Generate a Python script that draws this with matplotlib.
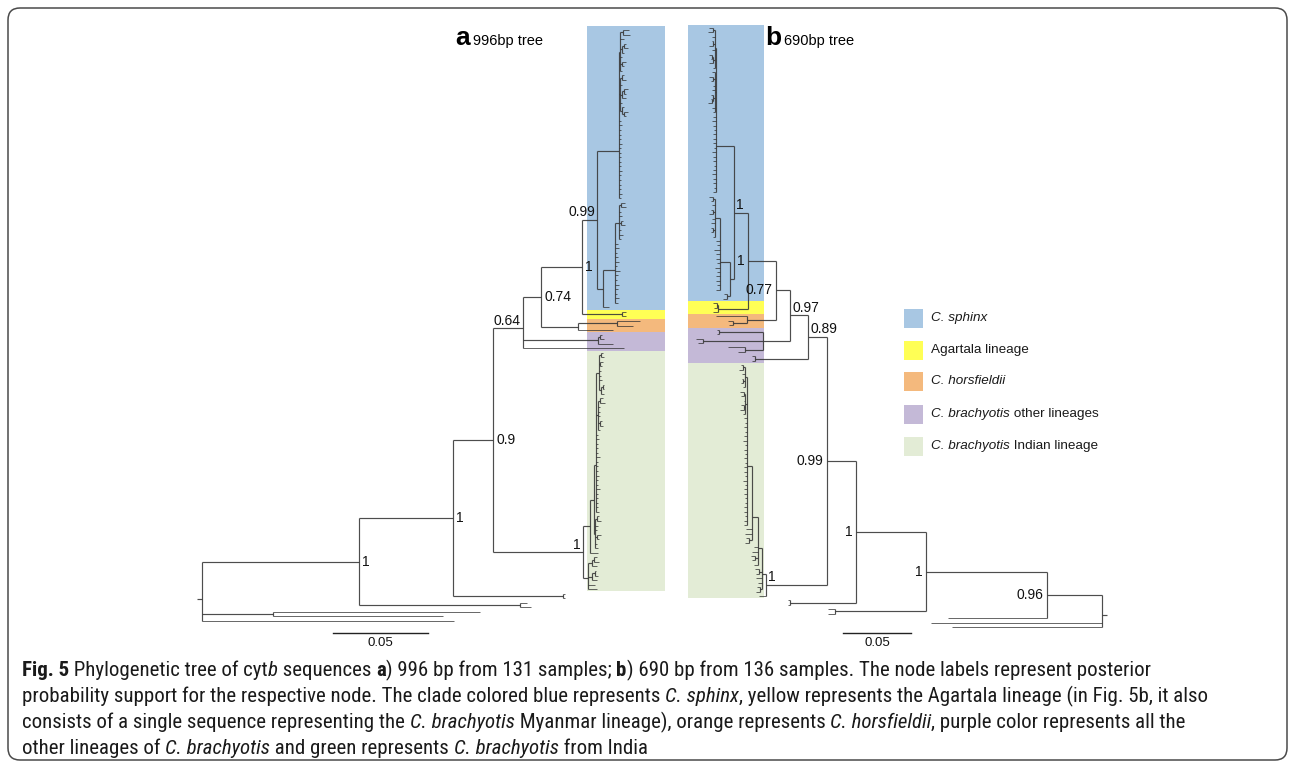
import matplotlib
matplotlib.use('Agg')
import matplotlib.pyplot as plt
from matplotlib.collections import LineCollection
from matplotlib.patches import Rectangle, FancyBboxPatch
from matplotlib import font_manager
from matplotlib.font_manager import FontProperties

# ---------------- data: trees as Newick strings ----------------
# branch lengths in units of 0.001 substitutions/site
# node label suffix '<' : label drawn on the root side, above the branch

# ----- tree a (996 bp) -----
S1_A = ("(((:3,:4):1.5,:2,((:1,:2):1,:1):1,:1,(:2,:1):1,:1):0.5,"
        "((:1,:2):1,:1,((:2,:1):1,:2):1,:1,(:1,(:2,:1):1):1):0.5,"
        ":1,:1.5,:1,:1,:1,:1.5,:1,:1,:1,:1,:1,:1.5,:1,:1,:1,:1,:1.5,:1)")
S2_A = ("((((:2,:3):1,:1,:1.5,(:1,:2):1,:1,:2,:1):2,"
        ":1.5,:2,:1,:1.5,:2,:1,:2.5,:1.5,:1,:2,:1.5,:1,:2,:1.5):6.3,:3.2)")
AGT_A = "(:2,:2)"
HORS_A = "((:12,:8.5):20.5,:18.4)"
PURP_A = "((:1,:2):1,:8)"
T1_A = "((:1,:2):1,(:2,:1):0.5,:1,:1,:1.5,((:1,:1):1,:2):1)"
T2_A = "((:2,:3):1,:1,:1,:1,(:1,:2):1,:1)"
L2_A = f"({T1_A}:1.5,{T2_A}:1,:1,:1.5,:1,:1,:1,:2,:1,:1,:1,:1.5,:1,:1,:2,:1,:1,:1,:1,:1.5)"
G2_A = "((:1,:2):1,:1.5,:1,(:2,:1):1,:1,:1.5)"
E1_A = f"(({L2_A}:1,{G2_A}:0.5):2.1,:4)"
E2_A = "(((:2,:3):1,:3):2,((:1,:2):1.5,:3):2,:4,:5)"
IND_A = f"({E1_A}:3.7,{E2_A}:2.6)"

H_A = f"({S1_A}:11.6,{S2_A}:3.2)0.99<"
G_A = f"({H_A}:7.9,{AGT_A}:21)1"
F_A = f"({G_A}:21.6,{HORS_A}:19.5)0.74"
D_A = f"({F_A}:9.5,{PURP_A}:39.5,:53.2)0.64<"
C_A = f"({D_A}:15.8,{IND_A}1<:47.4)0.9"
B_A = f"({C_A}:21,(:1,:1):57.9)1"
A_A = f"({B_A}:49.5,(:3.7,:5.8):84.7)1"
TREE_A = f"({A_A}:82.6,(:109,:89.5):37.4,:132.6)"

# ----- tree b (690 bp) -----
U1_B = "((:3,:4):1,:2,(:1,:3):1,:2,((:2,:1):1,:3):1,:1)"
U2_B = "(:2,(:3,:2):1,:1.5,:2,(:2,(:1,:3):1):1,:2,:1.5)"
SB1 = (f"({U1_B}:1,{U2_B}:1,:2,:3,:2,:1.5,:2,:2.5,:2,:1.5,:3,:2,:2,:1.5,"
       ":2,:3,:2,:2,:1.5,:2)")
SB2B = "((:3,:2):1,:2,(:1,:3):1.5,:2,:3,(:2,:2):1,:1)"
SB2A = f"({SB2B}:3.7,:3,:2,:4,:2.5,:3,:2,:3.5,:2,:3,:2.5,:2,:3)"
SB2 = f"({SB2A}:7.4,(:2,:3):2)"
AGT_B = "((:3,:2):1,:4)"
HORS_B = "(:23,(:4,:3):10)"
PURP_B = "((:2,:2):32,(:5,:4):44,(:13,:5):13)"
TA_B = "((:2,:3):1,:2,(:1,:2):1,:1)"
TB_B = "((:3,:2):1,:1,(:2,:3):1,:2)"
I4_B = (f"({TA_B}:1.5,{TB_B}:1,:2,:1.5,:2,:1,:2,:2.5,:1.5,:2,:1,:2,:1.5,:2,:2,"
        ":1,:2.5,:1.5,:2,:2,:1.5,:1,:2,:2,:1.5,:2,:2)")
I3_B = f"({I4_B}:3.7,:4,:5,(:2,:3):2)"
I2_B = f"({I3_B}:4.4,:3,:4,(:3,:2):2,:3)"
I1_B = f"({I2_B}:3,(:3,:2):2,:4,:3,(:2,:3):1.5)"
IND_B = f"({I1_B}:3,:5)"

N1S_B = f"({SB1}:13.2,{SB2}:3)1<"
N1SA_B = f"({N1S_B}:10.3,{AGT_B}:22)1"
N077_B = f"({N1SA_B}:20.6,{HORS_B}:21.3)0.77"
N097_B = f"({N077_B}:10.3,{PURP_B}:19.9)0.97<"
N089_B = f"({N097_B}:13.2,(:2,:2):39)0.89<"
N099_B = f"({N089_B}:14,{IND_B}1<:44.9)0.99"
N1U_B = f"({N099_B}:21.3,(:1.5,:1.5):48.5)1"
N1L_B = f"({N1U_B}:51.5,(:5,:5):67)1"
N096_B = f"({N1L_B}:89,:72.8)0.96"
TREE_B = f"({N096_B}:40.4,:125.7,:110.3)"

# clade bands: number of tips per coloured clade (top to bottom)
BAND_NAMES = ["C. sphinx", "Agartala lineage", "C. horsfieldii",
              "C. brachyotis other lineages", "C. brachyotis Indian lineage"]
BAND_TIPS_A = [62, 2, 3, 4, 53]
BAND_TIPS_B = [62, 3, 3, 8, 53]
BAND_COLORS = ["#a8c7e3", "#ffff55", "#f4b97d", "#c4b9d7", "#e3ecd6"]
LEGEND_RUNS = [[("C. sphinx", "i")], [("Agartala lineage", "")],
               [("C. horsfieldii", "i")],
               [("C. brachyotis", "i"), (" other lineages", "")],
               [("C. brachyotis", "i"), (" Indian lineage", "")]]
SCALE_LEN = 0.05
SCALE_LABEL = "0.05"

CAPTION = [
    [("Fig. 5", "b"), (" Phylogenetic tree of cyt", ""), ("b", "i"), (" sequences ", ""),
     ("a", "b"), (") 996 bp from 131 samples; ", ""), ("b", "b"),
     (") 690 bp from 136 samples. The node labels represent posterior", "")],
    [("probability support for the respective node. The clade colored blue represents ", ""),
     ("C. sphinx", "i"),
     (", yellow represents the Agartala lineage (in Fig. 5b, it also", "")],
    [("consists of a single sequence representing the ", ""), ("C. brachyotis", "i"),
     (" Myanmar lineage), orange represents ", ""), ("C. horsfieldii", "i"),
     (", purple color represents all the", "")],
    [("other lineages of ", ""), ("C. brachyotis", "i"), (" and green represents ", ""),
     ("C. brachyotis", "i"), (" from India", "")],
]


# ---------------- helpers ----------------
def parse(s):
    s = s.replace(" ", "")
    pos = 0

    def node():
        nonlocal pos
        n = {"children": [], "label": "", "len": 0.0}
        if s[pos] == "(":
            pos += 1
            while True:
                n["children"].append(node())
                if s[pos] == ",":
                    pos += 1
                    continue
                pos += 1  # ')'
                break
        st = pos
        while pos < len(s) and s[pos] not in ":,()":
            pos += 1
        n["label"] = s[st:pos]
        if pos < len(s) and s[pos] == ":":
            pos += 1
            st = pos
            while pos < len(s) and s[pos] not in ",()":
                pos += 1
            n["len"] = float(s[st:pos]) / 1000.0
        return n

    return node()


def layout(root):
    counter = [0]
    nodes = []

    def rec(n, x):
        n["x"] = x
        nodes.append(n)
        if not n["children"]:
            n["y"] = counter[0]
            counter[0] += 1
        else:
            for c in n["children"]:
                rec(c, x + c["len"])
            n["y"] = sum(c["y"] for c in n["children"]) / len(n["children"])

    rec(root, 0.0)
    return nodes


LABEL_SIZE = 10


def draw_tree(ax, newick, stub, sign, band_tips, band_x, top_pad):
    root = parse(newick)
    nodes = layout(root)
    inner, tips = [], []
    for n in nodes:
        if n["children"]:
            ys = [c["y"] for c in n["children"]]
            inner.append([(n["x"], min(ys)), (n["x"], max(ys))])
            for c in n["children"]:
                seg = [(n["x"], c["y"]), (c["x"], c["y"])]
                (inner if c["children"] else tips).append(seg)
    inner.append([(-stub, root["y"]), (0.0, root["y"])])
    # bands
    start = -0.5
    for k, (cnt, col) in enumerate(zip(band_tips, BAND_COLORS)):
        y0 = top_pad if k == 0 else start
        y1 = start + cnt
        ax.add_patch(Rectangle((band_x[0], y0), band_x[1] - band_x[0], y1 - y0,
                               facecolor=col, edgecolor="none", zorder=0))
        start = y1
    ax.add_collection(LineCollection(inner, colors="#3a3a3a", linewidths=0.85,
                                     alpha=0.9, zorder=2))
    ax.add_collection(LineCollection(tips, colors="#333333", linewidths=0.7,
                                     alpha=0.75, zorder=2))
    for n in nodes:
        lab = n["label"]
        if not lab:
            continue
        if lab.endswith("<"):
            ax.annotate(lab[:-1], (n["x"], n["y"]), xytext=(-1.5 * sign, 0.5),
                        textcoords="offset points",
                        ha="right" if sign > 0 else "left", va="bottom",
                        fontsize=LABEL_SIZE, family="Liberation Sans",
                        color="#111111", zorder=3)
        else:
            ax.annotate(lab, (n["x"], n["y"]), xytext=(2.5 * sign, 0),
                        textcoords="offset points",
                        ha="left" if sign > 0 else "right", va="center",
                        fontsize=LABEL_SIZE, family="Liberation Sans",
                        color="#111111", zorder=3)
    return nodes


W, H = 1295, 769
fig = plt.figure(figsize=(W / 100, H / 100), dpi=100)
ax0 = fig.add_axes([0, 0, 1, 1])
ax0.set_xlim(0, W)
ax0.set_ylim(H, 0)
ax0.axis("off")


def add_px_axes(x0, x1, y0, y1):
    return fig.add_axes([x0 / W, 1 - y1 / H, (x1 - x0) / W, (y1 - y0) / H])


# ----- tree a axes: root at x=202 px, 1900 px per substitution, tips 30..621 px
ROOT_A, PPU_A, TIP0_A, DY_A = 202, 1900.0, 30.0, (621 - 30) / 130.0
axa = add_px_axes(150, 680, 15, 655)
axa.set_xlim((150 - ROOT_A) / PPU_A, (680 - ROOT_A) / PPU_A)
axa.set_ylim((655 - TIP0_A) / DY_A, (15 - TIP0_A) / DY_A)
axa.axis("off")
axa.patch.set_alpha(0)
draw_tree(axa, TREE_A, 0.0026, +1, BAND_TIPS_A,
          ((587 - ROOT_A) / PPU_A, (665 - ROOT_A) / PPU_A), (26 - TIP0_A) / DY_A)
sb_x0 = (333 - ROOT_A) / PPU_A
sb_y = (633 - TIP0_A) / DY_A
axa.plot([sb_x0, sb_x0 + SCALE_LEN], [sb_y, sb_y], color="#222222", lw=1.0)
axa.annotate(SCALE_LABEL, (sb_x0 + SCALE_LEN / 2, sb_y), xytext=(0, -3),
             textcoords="offset points", ha="center", va="top", fontsize=9.5,
             family="Liberation Sans", color="#111111")

# ----- tree b axes: root at x=1102 px, 1360 px per substitution, tips 28..627 px
ROOT_B, PPU_B, TIP0_B, DY_B = 1102, 1360.0, 28.0, (627 - 28) / 135.0
axb = add_px_axes(670, 1130, 15, 655)
axb.set_xlim((ROOT_B - 670) / PPU_B, (ROOT_B - 1130) / PPU_B)
axb.set_ylim((655 - TIP0_B) / DY_B, (15 - TIP0_B) / DY_B)
axb.axis("off")
axb.patch.set_alpha(0)
draw_tree(axb, TREE_B, 0.0037, -1, BAND_TIPS_B,
          ((ROOT_B - 764) / PPU_B, (ROOT_B - 688) / PPU_B), (25 - TIP0_B) / DY_B)
sb_x0 = (ROOT_B - 911) / PPU_B
sb_y = (633 - TIP0_B) / DY_B
axb.plot([sb_x0, sb_x0 + SCALE_LEN], [sb_y, sb_y], color="#222222", lw=1.0)
axb.annotate(SCALE_LABEL, (sb_x0 + SCALE_LEN / 2, sb_y), xytext=(0, -3),
             textcoords="offset points", ha="center", va="top", fontsize=9.5,
             family="Liberation Sans", color="#111111")

# ----- titles
ax0.text(455, 45, "a", fontsize=19, fontweight="bold", family="Liberation Sans",
         va="baseline", ha="left")
ax0.text(473, 45, "996bp tree", fontsize=10.5, family="Liberation Sans",
         va="baseline", ha="left")
ax0.text(765, 45, "b", fontsize=19, fontweight="bold", family="Liberation Sans",
         va="baseline", ha="left")
ax0.text(784, 45, "690bp tree", fontsize=10.5, family="Liberation Sans",
         va="baseline", ha="left")

renderer = fig.canvas.get_renderer()


def run_width(txt, prop):
    w1, _, _ = renderer.get_text_width_height_descent("|" + txt + "|", prop, ismath=False)
    w0, _, _ = renderer.get_text_width_height_descent("||", prop, ismath=False)
    return w1 - w0


def make_prop(style, size, family, stretch="normal"):
    return FontProperties(family=family, size=size,
                          weight="bold" if "b" in style else "normal",
                          style="italic" if "i" in style else "normal",
                          stretch=stretch)


def rich(x, y, runs, size, family, stretch="normal", color="#1a1a1a"):
    for txt, style in runs:
        prop = make_prop(style, size, family, stretch)
        ax0.text(x, y, txt, fontproperties=prop, va="center", ha="left", color=color)
        x += run_width(txt, prop)


# ----- legend
LEG_Y = [318, 350, 381, 414, 446]
for yy, col, runs in zip(LEG_Y, BAND_COLORS, LEGEND_RUNS):
    ax0.add_patch(Rectangle((904, yy - 9.5), 19, 19, facecolor=col, edgecolor="none"))
    rich(931, yy, runs, 9.7, "Liberation Sans")

# ----- caption
names = {f.name for f in font_manager.fontManager.ttflist}
cap_family, cap_stretch = "Liberation Sans", "normal"
for cand in ["Liberation Sans Narrow", "Roboto Condensed", "Open Sans Condensed"]:
    if cand in names:
        cap_family = cand
        break
else:
    if any(f.name == "DejaVu Sans" and f.stretch == "condensed"
           for f in font_manager.fontManager.ttflist):
        cap_family, cap_stretch = "DejaVu Sans", "condensed"

base = 13.0
CAP_X = 22
w_line1 = sum(run_width(t, make_prop(s, base, cap_family, cap_stretch)) for t, s in CAPTION[0])
cap_size = base * (1145 - CAP_X) / w_line1
for i, runs in enumerate(CAPTION):
    rich(CAP_X, 670 + 26 * i, runs, cap_size, cap_family, cap_stretch)

# ----- frame
ax0.add_patch(FancyBboxPatch((8, 8), 1279, 752,
                             boxstyle="round,pad=0,rounding_size=12",
                             facecolor="none", edgecolor="#4a4a4a", lw=1.1))

fig.savefig("out.png", dpi=100)
